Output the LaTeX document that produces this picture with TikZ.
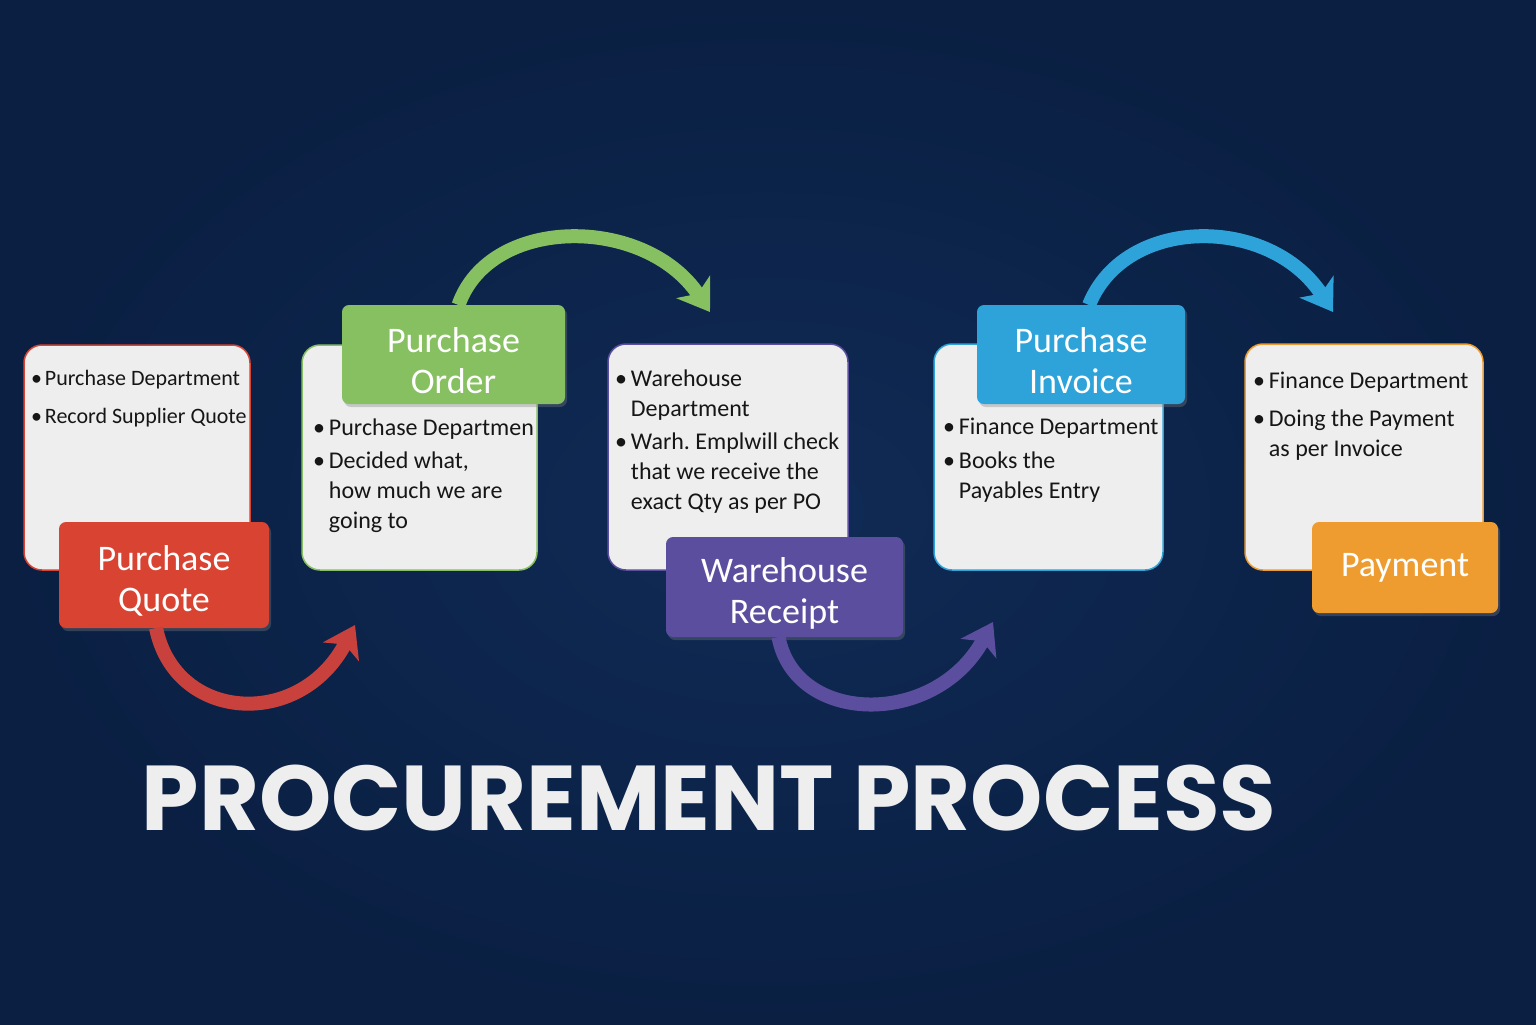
\documentclass[tikz,border=0pt]{standalone}
\usepackage{fontspec}
\setmainfont{Carlito}
\newfontfamily\headfont{Poppins}
\usetikzlibrary{shapes,arrows.meta,fit,positioning,shadows}
\definecolor{navy}{RGB}{16,43,86}
\definecolor{navydark}{RGB}{10,31,66}
\definecolor{paper}{RGB}{238,238,238}
\definecolor{ink}{RGB}{22,22,22}
\definecolor{qred}{RGB}{216,67,50}
\definecolor{qredarrow}{RGB}{201,65,60}
\definecolor{ogreen}{RGB}{134,192,96}
\definecolor{rpurple}{RGB}{92,78,158}
\definecolor{iblue}{RGB}{46,163,217}
\definecolor{porange}{RGB}{238,156,48}
\definecolor{titlegray}{RGB}{238,238,238}
\def\Title{PROCUREMENT PROCESS}
\def\Lift{\rule{0pt}{37bp}}

\begin{document}
\begin{tikzpicture}[x=1bp,y=1bp,% pixel grid of the slide, y goes down as negative
      every node/.style={inner sep=0pt,outer sep=0pt},
      body/.style={rectangle,rounded corners=18bp,fill=paper,line width=1.5bp,anchor=north west},
      tag/.style={rectangle,rounded corners=7bp,text=white,align=center,anchor=north west,
        font=\fontsize{36bp}{41bp}\selectfont,
        drop shadow={opacity=.35,shadow xshift=2bp,shadow yshift=-3bp}},
      notes/.style={anchor=north west,text=ink,font=\fontsize{24bp}{30bp}\selectfont},
      flow/.style={line width=14bp,-{Stealth[length=30bp,width=40bp,inset=8bp]}}
    ]
    % background
    \shade[inner color=navy,outer color=navydark] (0,0) rectangle (1536,-1024);

    % white cards
    \node[body,draw=qred,minimum width=226bp,minimum height=225bp](B1) at (24,-345){};
    \node[body,draw=ogreen,minimum width=235bp,minimum height=225bp](B2) at (302,-345){};
    \node[body,draw=rpurple,minimum width=240bp,minimum height=226bp](B3) at (608,-344){};
    \node[body,draw=iblue,minimum width=229bp,minimum height=226bp](B4) at (934,-344){};
    \node[body,draw=porange,minimum width=238bp,minimum height=226bp](B5) at (1245,-344){};

    % card texts
    \node[notes,font=\fontsize{22bp}{28bp}\selectfont](N1) at (31,-366){%
      \begin{tabular}{@{}l@{\hspace{3bp}}l@{}}
      • & Purchase Department \\[10bp]
      • & Record Supplier Quote
      \end{tabular}};
    \node[notes](N2) at (313,-414){%
      \begin{tabular}{@{}l@{\hspace{4bp}}l@{}}
      • & Purchase Departmen \\[3bp]
      • & Decided what, \\
        & how much we are \\
        & going to
      \end{tabular}};
    \node[notes](N3) at (615,-365){%
      \begin{tabular}{@{}l@{\hspace{4bp}}l@{}}
      • & Warehouse \\
        & Department \\[3bp]
      • & Warh.\ Emplwill check \\
        & that we receive the \\
        & exact Qty as per PO
      \end{tabular}};
    \node[notes](N4) at (943,-413){%
      \begin{tabular}{@{}l@{\hspace{4bp}}l@{}}
      • & Finance Department \\[4bp]
      • & Books the \\
        & Payables Entry
      \end{tabular}};
    \node[notes](N5) at (1253,-367){%
      \begin{tabular}{@{}l@{\hspace{4bp}}l@{}}
      • & Finance Department \\[8bp]
      • & Doing the Payment \\
        & as per Invoice
      \end{tabular}};

    % step tags
    \node[tag,fill=qred,minimum width=210bp,minimum height=106bp](T1) at (59,-522){\Lift Purchase\\Quote};
    \node[tag,fill=ogreen,minimum width=223bp,minimum height=99bp](T2) at (342,-305){\Lift Purchase\\Order};
    \node[tag,fill=rpurple,minimum width=237bp,minimum height=100bp](T3) at (666,-537){\Lift Warehouse\\Receipt};
    \node[tag,fill=iblue,minimum width=208bp,minimum height=99bp](T4) at (977,-305){\Lift Purchase\\Invoice};
    \node[tag,fill=porange,minimum width=186bp,minimum height=91bp](T5) at (1312,-522){Payment};

    % arrow ends
    \coordinate (E1) at (355,-625);
    \coordinate (E2) at (710,-312);
    \coordinate (E3) at (993,-622);
    \coordinate (E4) at (1333,-312);

    \draw[flow,color=qredarrow] ([xshift=-8bp]T1.south) .. controls (175,-722) and (300,-730) .. (E1);
    \draw[flow,color=ogreen] ([xshift=5bp]T2.north) .. controls (490,-215) and (645,-215) .. (E2);
    \draw[flow,color=rpurple] ([xshift=-6bp]T3.south) .. controls (795,-725) and (935,-728) .. (E3);
    \draw[flow,color=iblue] ([xshift=8bp]T4.north) .. controls (1125,-215) and (1270,-215) .. (E4);

    % title
    \node[text=titlegray,font=\headfont\bfseries\fontsize{92bp}{92bp}\selectfont](H) at (709,-798){\Title};
  \end{tikzpicture}
\end{document}
